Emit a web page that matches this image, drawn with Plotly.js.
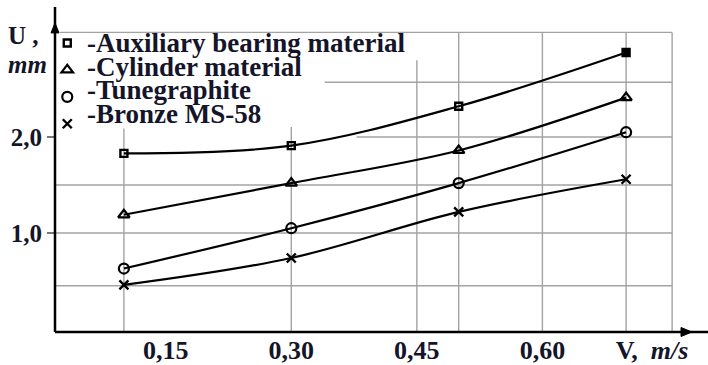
<!DOCTYPE html>
<html>
<head>
<meta charset="utf-8">
<script src="https://cdn.plot.ly/plotly-3.0.1.min.js"></script>
<style>html,body{margin:0;padding:0;background:#fff;}#chart{width:708px;height:365px;}</style>
</head>
<body>
<div id="chart"></div>
<script>
// ---- data ----
const V = [0.1, 0.3, 0.5, 0.7];                 // speed, m/s
const U_aux = [1.83, 1.91, 2.32, 2.88];          // Auxiliary bearing material
const U_cyl = [1.19, 1.52, 1.86, 2.41];          // Cylinder material
const U_tune = [0.63, 1.05, 1.52, 2.05];         // Tunegraphite
const U_bronze = [0.46, 0.74, 1.22, 1.56];       // Bronze MS-58
const seriesNames = ["-Auxiliary bearing material", "-Cylinder material", "-Tunegraphite", "-Bronze MS-58"];
const xTickVals = [0.15, 0.30, 0.45, 0.60, 0.731];
const xTickText = ["0,15", "0,30", "0,45", "0,60", "V,  <i>m/s</i>"];
const yTickVals = [1.0, 2.0];
const yTickText = ["1,0", "2,0"];

// ---- layout helpers (grid segments of the hand-drawn grid) ----
const X_MIN = 0.01768, X_MAX = 0.7883, Y_MIN = -0.031, Y_MAX = 3.344;
const GRID_RIGHT = 0.755, GRID_TOP = 3.09;
const hGrid = [[3.09, 0.0237], [2.57, 0.34], [2.0, 0.378], [1.5, X_MIN], [1.0, X_MIN], [0.45, X_MIN]];
const vGrid = [[0.1, 2.09], [0.3, 2.104], [0.45, 2.80], [0.5, GRID_TOP], [0.6, GRID_TOP], [0.7, GRID_TOP], [GRID_RIGHT, GRID_TOP]];
const legendRowsY = [0.892, 0.818, 0.747, 0.673];

const INK = '#15152a';
const SERIF = 'Liberation Serif';
const gridLine = {color: '#a3a3a3', width: 1.4};

const shapes = [];
hGrid.forEach(([y, x0]) => shapes.push({type: 'line', xref: 'x', yref: 'y', x0: x0, x1: GRID_RIGHT, y0: y, y1: y, line: gridLine, layer: 'below'}));
vGrid.forEach(([x, y1]) => shapes.push({type: 'line', xref: 'x', yref: 'y', x0: x, x1: x, y0: Y_MIN, y1: y1, line: gridLine, layer: 'below'}));
// axes with arrows
shapes.push({type: 'line', xref: 'paper', yref: 'paper', x0: 0, x1: 1.013, y0: 0, y1: 0, line: {color: '#000', width: 2.5}});
shapes.push({type: 'line', xref: 'paper', yref: 'paper', x0: 0, x1: 0, y0: 0, y1: 1.003, line: {color: '#000', width: 2.5}});
shapes.push({type: 'path', xref: 'paper', yref: 'paper', xsizemode: 'pixel', ysizemode: 'pixel', xanchor: 0.9876, yanchor: 0,
  path: 'M0,0 L-11,4.5 L-11,-4.5 Z', fillcolor: '#000', line: {color: '#000', width: 1}});
shapes.push({type: 'path', xref: 'paper', yref: 'paper', xsizemode: 'pixel', ysizemode: 'pixel', xanchor: 0, yanchor: 0.954,
  path: 'M0,0 L-4,-10 L4,-10 Z', fillcolor: '#000', line: {color: '#000', width: 1}});

const allU = [U_aux, U_cyl, U_tune, U_bronze];
const markerStyles = [
  {symbol: ['square-open', 'square-open', 'square-open', 'square'], size: 7, line: {width: 2.4, color: '#000'}, color: '#000'},
  {symbol: 'triangle-up-open', size: 10, line: {width: 2.2, color: '#000'}, color: '#000'},
  {symbol: 'circle-open', size: 10, line: {width: 2.2, color: '#000'}, color: '#000'},
  {symbol: 'x-thin-open', size: 9, line: {width: 2.4, color: '#000'}, color: '#000'}
];

const traces = [];
allU.forEach((U, i) => {
  traces.push({x: V, y: U, type: 'scatter', mode: 'lines', line: {color: '#000', width: 2.2, shape: 'spline', smoothing: 1}, showlegend: false, hoverinfo: 'skip'});
});
allU.forEach((U, i) => {
  // legend symbols come from the library legend; the legend labels are drawn as text below
  traces.push({x: V, y: U, type: 'scatter', mode: 'markers', name: ' ', marker: markerStyles[i], showlegend: true});
});

const annotations = [
  {xref: 'paper', yref: 'paper', x: -0.076, y: 0.914, xanchor: 'left', yanchor: 'middle', showarrow: false,
    text: '<b>U ,</b>', font: {family: SERIF, size: 25, color: INK}},
  {xref: 'paper', yref: 'paper', x: -0.076, y: 0.827, xanchor: 'left', yanchor: 'middle', showarrow: false,
    text: '<b><i>mm</i></b>', font: {family: SERIF, size: 25, color: INK}}
];
seriesNames.forEach((nm, i) => annotations.push({xref: 'paper', yref: 'paper', x: 0.047, y: legendRowsY[i],
  xanchor: 'left', yanchor: 'middle', showarrow: false, text: '<b>' + nm + '</b>', font: {family: SERIF, size: 27, color: INK}}));

const layout = {
  width: 708, height: 365,
  margin: {l: 55, r: 8, t: 8, b: 33},
  paper_bgcolor: '#fff', plot_bgcolor: 'rgba(0,0,0,0)',
  showlegend: true,
  legend: {x: -0.012, y: 0.949, xanchor: 'left', yanchor: 'top', bgcolor: 'rgba(0,0,0,0)',
    font: {family: SERIF, size: 18.4, color: INK, weight: 'bold'}, itemwidth: 30, tracegroupgap: 0},
  xaxis: {range: [X_MIN, X_MAX], showgrid: false, zeroline: false, showline: false,
    tickmode: 'array', tickvals: xTickVals, ticktext: xTickText, ticks: '',
    tickfont: {family: SERIF, size: 26, color: INK, weight: 'bold'}},
  yaxis: {range: [Y_MIN, Y_MAX], showgrid: false, zeroline: false, showline: false,
    tickmode: 'array', tickvals: yTickVals, ticktext: yTickText, ticks: 'outside', ticklen: 7, tickwidth: 1.5, tickcolor: '#777',
    tickfont: {family: SERIF, size: 25, color: INK, weight: 'bold'}},
  shapes: shapes,
  annotations: annotations
};

Plotly.newPlot('chart', traces, layout, {displayModeBar: false, staticPlot: true});
</script>
</body>
</html>
